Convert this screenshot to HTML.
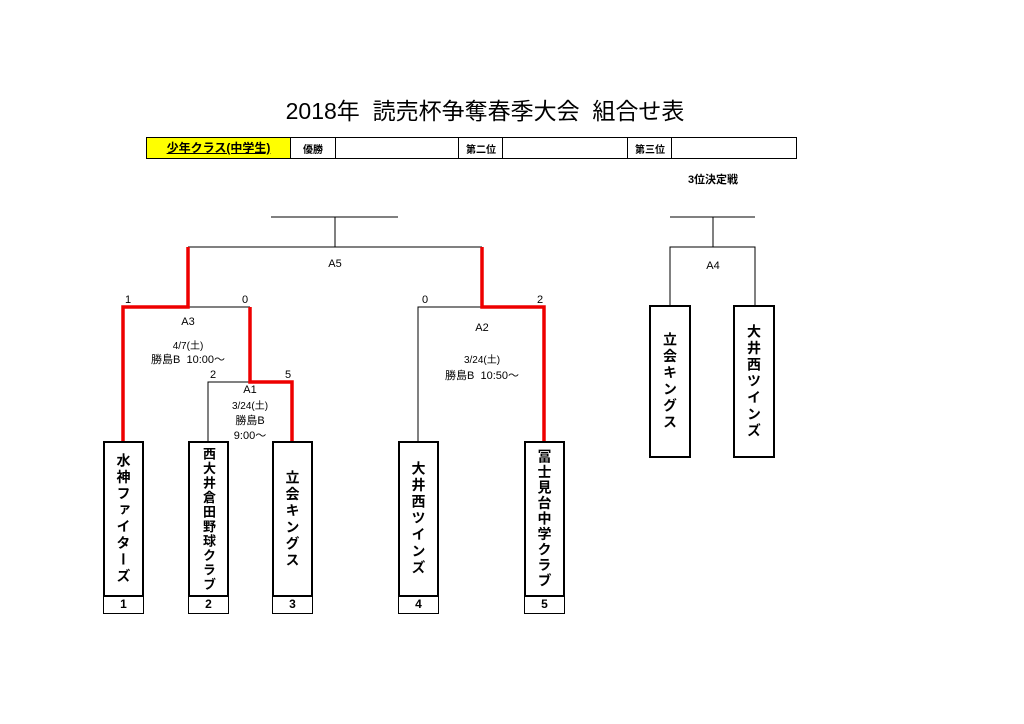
<!DOCTYPE html>
<html><head><meta charset="utf-8"><style>
body{margin:0;background:#fff;width:1024px;height:724px;position:relative;overflow:hidden;font-family:"Liberation Sans","Noto Sans CJK JP",sans-serif;color:#000}
.a{position:absolute}
.t{position:absolute;transform:translateX(-50%);white-space:nowrap;font-size:11px;line-height:13px}
.box{position:absolute;border:2.5px solid #000;box-sizing:border-box;display:flex;align-items:center;justify-content:center;background:#fff}
.box span{writing-mode:vertical-rl;font-weight:bold;font-size:14px;letter-spacing:2.5px;white-space:nowrap}
.num{position:absolute;border:1.5px solid #000;border-top:none;box-sizing:border-box;text-align:center;font-weight:bold;font-size:12px;line-height:15px}
</style></head><body>
<div class="t" style="left:485px;top:97px;font-size:23px;line-height:28px">2018年&nbsp; 読売杯争奪春季大会&nbsp; 組合せ表</div>
<div class="a" style="left:146px;top:137px;width:651px;height:22px;border:1.5px solid #000;box-sizing:border-box"></div>
<div class="a" style="left:147px;top:138px;width:143px;height:20px;background:#ffff00;border-right:1.5px solid #000;text-align:center;font-weight:bold;font-size:12px;line-height:20px"><u>少年クラス(中学生)</u></div>
<div class="a" style="left:335px;top:137px;height:22px;border-left:1px solid #000"></div>
<div class="a" style="left:458px;top:137px;height:22px;border-left:1.5px solid #000"></div>
<div class="a" style="left:502px;top:137px;height:22px;border-left:1px solid #000"></div>
<div class="a" style="left:627px;top:137px;height:22px;border-left:1.5px solid #000"></div>
<div class="a" style="left:671px;top:137px;height:22px;border-left:1px solid #000"></div>
<div class="a" style="left:303px;top:141px;font-size:10px;font-weight:bold">優勝</div>
<div class="a" style="left:466px;top:141px;font-size:10px;font-weight:bold">第二位</div>
<div class="a" style="left:635px;top:141px;font-size:10px;font-weight:bold">第三位</div>
<div class="t" style="left:713px;top:174px;font-weight:bold;font-size:11px">3位決定戦</div>

<svg class="a" style="left:0;top:0" width="1024" height="724">
<g stroke="#000" stroke-width="1" fill="none">
<path d="M271 217H398M335 217V247M188 247H482"/>
<path d="M188 307H250M208 442V382H250M418 442V307H482"/>
<path d="M670 217H755M713 217V247M670 306V247H755V306"/>
</g>
<g stroke="#e00" stroke-width="3.5" fill="none" stroke-linejoin="miter">
<path d="M123 442V307H188V247"/>
<path d="M250 307V382H292V442"/>
<path d="M482 247V307H544V442"/>
</g>
</svg>

<div class="t" style="left:335px;top:258px">A5</div>
<div class="t" style="left:128px;top:294px">1</div>
<div class="t" style="left:245px;top:294px">0</div>
<div class="t" style="left:188px;top:316px">A3</div>
<div class="t" style="left:188px;top:340px;font-size:10px">4/7(土)</div>
<div class="t" style="left:188px;top:354px">勝島B&nbsp; 10:00～</div>
<div class="t" style="left:213px;top:369px">2</div>
<div class="t" style="left:288px;top:369px">5</div>
<div class="t" style="left:250px;top:384px">A1</div>
<div class="t" style="left:250px;top:400px;font-size:10px">3/24(土)</div>
<div class="t" style="left:250px;top:415px">勝島B</div>
<div class="t" style="left:250px;top:430px">9:00～</div>
<div class="t" style="left:425px;top:294px">0</div>
<div class="t" style="left:540px;top:294px">2</div>
<div class="t" style="left:482px;top:322px">A2</div>
<div class="t" style="left:482px;top:354px;font-size:10px">3/24(土)</div>
<div class="t" style="left:482px;top:370px">勝島B&nbsp; 10:50～</div>
<div class="t" style="left:713px;top:260px">A4</div>

<div class="box" style="left:103px;top:441px;width:41px;height:156px"><span>水神ファイターズ</span></div>
<div class="box" style="left:188px;top:441px;width:41px;height:156px"><span style="font-size:13px;letter-spacing:1.5px">西大井倉田野球クラブ</span></div>
<div class="box" style="left:272px;top:441px;width:41px;height:156px"><span>立会キングス</span></div>
<div class="box" style="left:398px;top:441px;width:41px;height:156px"><span>大井西ツインズ</span></div>
<div class="box" style="left:524px;top:441px;width:41px;height:156px"><span style="letter-spacing:1.5px">冨士見台中学クラブ</span></div>
<div class="num" style="left:103px;top:597px;width:41px;height:17px">1</div>
<div class="num" style="left:188px;top:597px;width:41px;height:17px">2</div>
<div class="num" style="left:272px;top:597px;width:41px;height:17px">3</div>
<div class="num" style="left:398px;top:597px;width:41px;height:17px">4</div>
<div class="num" style="left:524px;top:597px;width:41px;height:17px">5</div>
<div class="box" style="left:649px;top:305px;width:42px;height:153px"><span>立会キングス</span></div>
<div class="box" style="left:733px;top:305px;width:42px;height:153px"><span>大井西ツインズ</span></div>
</body></html>
